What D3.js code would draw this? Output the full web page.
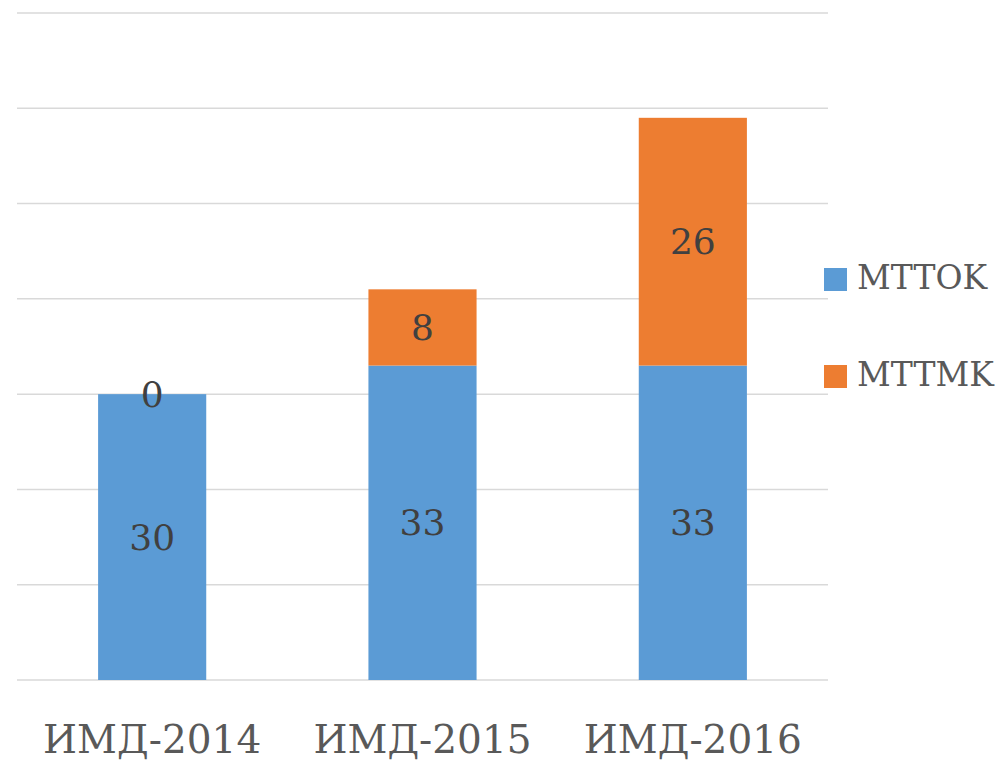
<!DOCTYPE html>
<html>
<head>
<meta charset="utf-8">
<script src="https://cdn.jsdelivr.net/npm/d3@7.9.0/dist/d3.min.js"></script>
<style>
  body { margin: 0; background: #fff; }
  text { font-family: 'DejaVu Serif', serif; }
</style>
</head>
<body>
<svg id="chart" width="1005" height="763"></svg>
<script>
// ─── Data ────────────────────────────────────────────────────────────────────
const categories = ['ИМД-2014', 'ИМД-2015', 'ИМД-2016'];
const seriesNames = ['MTTOK', 'MTTMK'];
const mttok = [30, 33, 33];
const mttmk = [0, 8, 26];
const yTicks = [0, 10, 20, 30, 40, 50, 60, 70];
const colors = ['#5B9BD5', '#ED7D31'];

// Build rows for the stack generator
const rows = categories.map((c, i) => ({ cat: c, MTTOK: mttok[i], MTTMK: mttmk[i] }));

const svg = d3.select('#chart');
const margin = { left: 17, right: 177, top: 13, bottom: 83 };
const width = 1005, height = 763;

const x = d3.scaleBand()
  .domain(categories)
  .range([margin.left, width - margin.right])
  .paddingInner(0.6)
  .paddingOuter(0.3);

const y = d3.scaleLinear()
  .domain([0, 70])
  .range([height - margin.bottom, margin.top]);

// Gridlines
svg.append('g')
  .selectAll('line')
  .data(yTicks)
  .join('line')
  .attr('x1', margin.left)
  .attr('x2', width - margin.right)
  .attr('y1', d => y(d))
  .attr('y2', d => y(d))
  .attr('stroke', '#d9d9d9')
  .attr('stroke-width', 1.5);

// Stacked bars
const stacked = d3.stack().keys(seriesNames)(rows);

const layers = svg.append('g')
  .selectAll('g')
  .data(stacked)
  .join('g')
  .attr('fill', (d, i) => colors[i]);

layers.selectAll('rect')
  .data(d => d.filter(s => s[1] - s[0] > 0))
  .join('rect')
  .attr('x', d => x(d.data.cat))
  .attr('width', x.bandwidth())
  .attr('y', d => y(d[1]))
  .attr('height', d => y(d[0]) - y(d[1]));

// Data labels (the zero value is labelled too)
layers.selectAll('text')
  .data(d => d)
  .join('text')
  .attr('x', d => x(d.data.cat) + x.bandwidth() / 2)
  .attr('y', d => y((d[0] + d[1]) / 2))
  .attr('dy', '0.35em')
  .attr('text-anchor', 'middle')
  .attr('fill', '#404040')
  .attr('font-size', 36)
  .text(d => d[1] - d[0]);

// Category axis labels
svg.append('g')
  .selectAll('text')
  .data(categories)
  .join('text')
  .attr('x', d => x(d) + x.bandwidth() / 2)
  .attr('y', 753)
  .attr('text-anchor', 'middle')
  .attr('fill', '#595959')
  .attr('font-size', 39)
  .text(d => d);

// Legend
const legend = svg.append('g')
  .selectAll('g')
  .data(seriesNames)
  .join('g')
  .attr('transform', (d, i) => `translate(824, ${268 + i * 97})`);

legend.append('rect')
  .attr('width', 23)
  .attr('height', 23)
  .attr('fill', (d, i) => colors[i]);

legend.append('text')
  .attr('x', 33)
  .attr('y', 21)
  .attr('fill', '#595959')
  .attr('font-size', 33)
  .text(d => d);
</script>
</body>
</html>
